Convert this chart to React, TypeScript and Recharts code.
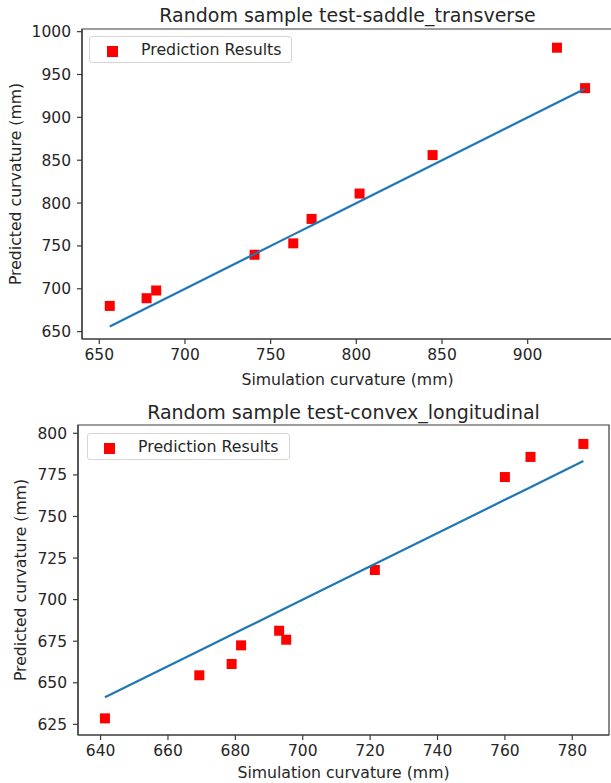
import { ScatterChart, Scatter, XAxis, YAxis, ReferenceArea } from "recharts";

// saddle_transverse sample
const saddleSim = [656.1, 677.6, 683.2, 740.6, 763.2, 773.9, 801.9, 844.5, 917.1, 933.5];
const saddlePred = [680.0, 689.0, 698.0, 739.7, 753.0, 781.5, 811.1, 856.0, 981.3, 934.1];
const saddleTicksX = [650, 700, 750, 800, 850, 900];
const saddleTicksY = [650, 700, 750, 800, 850, 900, 950, 1000];

// convex_longitudinal sample
const convexSim = [641.3, 669.3, 678.9, 681.7, 693.0, 695.1, 721.4, 760.0, 767.6, 783.3];
const convexPred = [628.6, 654.5, 661.3, 672.5, 681.3, 675.9, 717.8, 773.7, 785.8, 793.6];
const convexTicksX = [640, 660, 680, 700, 720, 740, 760, 780];
const convexTicksY = [625, 650, 675, 700, 725, 750, 775, 800];

const FONT = "'DejaVu Sans', sans-serif";
const TEXT = "#262626";
const SPINE = "#3a3a3a";

function Square(props: any) {
  const { cx, cy } = props;
  if (cx == null || cy == null) return <g />;
  return <rect x={cx - 5} y={cy - 5} width={10} height={10} fill="#ff0000" />;
}

type PanelProps = {
  title: string;
  sim: number[];
  pred: number[];
  ticksX: number[];
  ticksY: number[];
  domX: [number, number];
  domY: [number, number];
  top: number;
  width: number;
  height: number;
  margin: { top: number; right: number; bottom: number; left: number };
  yWidth: number;
  xHeight: number;
  titleY: number;
  yLabelX: number;
  legend: { left: number; top: number; mx: number; my: number; tx: number };
};

function Panel(p: PanelProps) {
  const scatter = p.sim.map((x, i) => ({ x, y: p.pred[i] }));
  const ident = p.sim.map((x) => ({ x, y: x }));
  const plotLeft = p.margin.left + p.yWidth;
  const plotRight = p.width - p.margin.right;
  const tick = { fill: TEXT, fontSize: 15.5, fontFamily: FONT };

  return (
    <div style={{ position: "absolute", left: 0, top: p.top, width: p.width, height: p.height }}>
      <div
        style={{
          position: "absolute",
          left: plotLeft,
          width: plotRight - plotLeft,
          top: p.titleY - 12,
          height: 24,
          lineHeight: "24px",
          textAlign: "center",
          fontSize: 19,
          color: TEXT,
          fontFamily: FONT,
          zIndex: 2,
        }}
      >
        {p.title}
      </div>

      <ScatterChart width={p.width} height={p.height} margin={p.margin}>
        <XAxis
          type="number"
          dataKey="x"
          domain={p.domX}
          ticks={p.ticksX}
          allowDataOverflow
          tickSize={5}
          tickMargin={5}
          stroke={SPINE}
          strokeWidth={1.2}
          height={p.xHeight}
          tick={tick}
          label={{
            value: "Simulation curvature (mm)",
            position: "insideBottom",
            offset: 5,
            fill: TEXT,
            fontSize: 15.7,
            fontFamily: FONT,
          }}
        />
        <YAxis
          type="number"
          dataKey="y"
          domain={p.domY}
          ticks={p.ticksY}
          allowDataOverflow
          tickSize={5}
          tickMargin={6}
          stroke={SPINE}
          strokeWidth={1.2}
          width={p.yWidth}
          tick={tick}
          label={{
            value: "Predicted curvature (mm)",
            angle: -90,
            position: "insideLeft",
            offset: p.yLabelX,
            fill: TEXT,
            fontSize: 15.7,
            fontFamily: FONT,
            style: { textAnchor: "middle" },
          }}
        />
        {/* frame (top/right spines) */}
        <ReferenceArea
          x1={p.domX[0]}
          x2={p.domX[1]}
          y1={p.domY[0]}
          y2={p.domY[1]}
          fill="none"
          fillOpacity={0}
          stroke={SPINE}
          strokeWidth={1.2}
          strokeOpacity={1}
          ifOverflow="visible"
        />
        <Scatter data={scatter} shape={Square} isAnimationActive={false} />
        <Scatter
          data={ident}
          shape={() => <g />}
          line={{ stroke: "#1f77b4", strokeWidth: 2.2 }}
          lineType="joint"
          isAnimationActive={false}
        />
      </ScatterChart>

      <div
        style={{
          position: "absolute",
          left: p.legend.left,
          top: p.legend.top,
          width: 201,
          height: 25,
          border: "1px solid #d6d6d6",
          borderRadius: 3,
          background: "rgba(255,255,255,0.8)",
          fontFamily: FONT,
        }}
      >
        <div
          style={{
            position: "absolute",
            left: p.legend.mx,
            top: p.legend.my,
            width: 11,
            height: 11,
            background: "#ff0000",
          }}
        />
        <div
          style={{
            position: "absolute",
            left: p.legend.tx,
            top: 0,
            height: 25,
            lineHeight: "25px",
            fontSize: 15.8,
            color: TEXT,
            whiteSpace: "nowrap",
          }}
        >
          Prediction Results
        </div>
      </div>
    </div>
  );
}

export default function App() {
  return (
    <div
      style={{
        position: "absolute",
        left: 0,
        top: 0,
        width: 611,
        height: 783,
        overflow: "hidden",
        background: "#fff",
      }}
    >
      <Panel
        title="Random sample test-saddle_transverse"
        sim={saddleSim}
        pred={saddlePred}
        ticksX={saddleTicksX}
        ticksY={saddleTicksY}
        domX={[639.9, 949.8]}
        domY={[641.4, 1003.1]}
        top={0}
        width={620}
        height={390}
        margin={{ top: 29, right: 7, bottom: 0, left: 0 }}
        yWidth={82}
        xHeight={51}
        titleY={15}
        yLabelX={15}
        legend={{ left: 89, top: 36, mx: 17, my: 9, tx: 51 }}
      />
      <Panel
        title="Random sample test-convex_longitudinal"
        sim={convexSim}
        pred={convexPred}
        ticksX={convexTicksX}
        ticksY={convexTicksY}
        domX={[633.3, 790.9]}
        domY={[618.6, 805.0]}
        top={390}
        width={611}
        height={393}
        margin={{ top: 35, right: 2, bottom: 0, left: 0 }}
        yWidth={78}
        xHeight={48}
        titleY={22}
        yLabelX={20}
        legend={{ left: 87, top: 43, mx: 16, my: 9, tx: 50 }}
      />
    </div>
  );
}
